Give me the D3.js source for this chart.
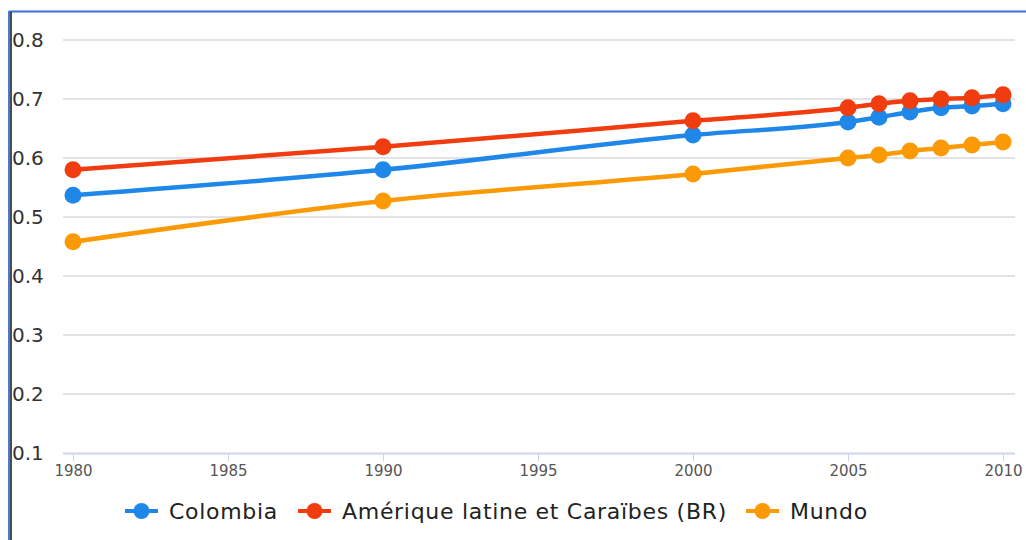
<!DOCTYPE html>
<html>
<head>
<meta charset="utf-8">
<script src="https://cdn.jsdelivr.net/npm/d3@7"></script>
<style>
  body { margin: 0; background: #fff; }
  svg { display: block; font-family: "DejaVu Sans", sans-serif; }
</style>
</head>
<body>
<div class="chart"></div>
<script>
const years = [1980, 1990, 2000, 2005, 2006, 2007, 2008, 2009, 2010];
const colombia = [0.537, 0.580, 0.639, 0.661, 0.669, 0.678, 0.685, 0.688, 0.692];
const latam = [0.580, 0.619, 0.663, 0.685, 0.692, 0.697, 0.700, 0.702, 0.707];
const mundo = [0.458, 0.527, 0.573, 0.600, 0.605, 0.612, 0.617, 0.622, 0.627];
const seriesNames = ["Colombia", "Amérique latine et Caraïbes (BR)", "Mundo"];
const seriesColors = ["#1f87e8", "#f03c0e", "#fc9a06"];
const yTicks = [0.1, 0.2, 0.3, 0.4, 0.5, 0.6, 0.7, 0.8];
const xTicks = [1980, 1985, 1990, 1995, 2000, 2005, 2010];

const w = 1026;
const h = 540;

const svg = d3.select(".chart")
              .append("svg")
              .attr("width", w)
              .attr("height", h);

// frame
svg.append("line").attr("x1", 9).attr("x2", w).attr("y1", 11.5).attr("y2", 11.5)
   .attr("stroke", "#3b6fd0").attr("stroke-width", 2);
svg.append("line").attr("x1", 9).attr("x2", 9).attr("y1", 11).attr("y2", h)
   .attr("stroke", "#4a78d8").attr("stroke-width", 2);
svg.append("line").attr("x1", 11).attr("x2", 11).attr("y1", 12).attr("y2", h)
   .attr("stroke", "#111").attr("stroke-width", 1.5);

const xScale = d3.scaleLinear().domain([1980, 2010]).range([73, 1003]);
const yScale = d3.scaleLinear().domain([0.1, 0.8]).range([453, 40]);

// gridlines + y labels
svg.selectAll(".grid")
   .data(yTicks.slice(1))
   .enter()
   .append("line")
   .attr("x1", 63).attr("x2", 1015)
   .attr("y1", d => yScale(d)).attr("y2", d => yScale(d))
   .attr("stroke", "#c4c4ce").attr("stroke-width", 1);

svg.selectAll(".ylab")
   .data(yTicks)
   .enter()
   .append("text")
   .attr("x", 12)
   .attr("y", d => yScale(d) + 7)
   .attr("font-size", 20)
   .attr("fill", "#333")
   .text(d => d.toFixed(1));

// x axis
const xAxis = d3.axisBottom(xScale).tickValues(xTicks).tickFormat(d => d).tickSize(8).tickSizeOuter(0);
const gx = svg.append("g")
   .attr("transform", "translate(0,453)")
   .call(xAxis);
gx.select(".domain").remove();
gx.append("line").attr("x1", 63).attr("x2", 1015).attr("y1", 0.5).attr("y2", 0.5)
  .attr("stroke", "#ccd6eb").attr("stroke-width", 2);
gx.selectAll(".tick line").attr("stroke", "#ccd6eb");
gx.selectAll(".tick text")
  .attr("font-family", "DejaVu Sans")
  .attr("font-size", 15).attr("fill", "#555").attr("y", 12).attr("dy", "0.71em");

// series
const allSeries = [colombia, latam, mundo];
const line = d3.line()
               .x((d, i) => xScale(years[i]))
               .y(d => yScale(d))
               .curve(d3.curveMonotoneX);

const drawOrder = [2, 0, 1];
drawOrder.forEach(s => {
  const g = svg.append("g");
  g.append("path")
   .attr("d", line(allSeries[s]))
   .attr("fill", "none")
   .attr("stroke", seriesColors[s])
   .attr("stroke-width", 4.5);
  g.selectAll("circle")
   .data(allSeries[s])
   .enter()
   .append("circle")
   .attr("cx", (d, i) => xScale(years[i]))
   .attr("cy", d => yScale(d))
   .attr("r", 8.5)
   .attr("fill", seriesColors[s]);
});

// legend
const legendX = [125, 298, 746];
const legend = svg.selectAll(".leg")
   .data(seriesNames)
   .enter()
   .append("g")
   .attr("transform", (d, i) => "translate(" + legendX[i] + ",511)");
legend.append("line")
   .attr("x1", 0).attr("x2", 33).attr("y1", 0).attr("y2", 0)
   .attr("stroke", (d, i) => seriesColors[i]).attr("stroke-width", 4);
legend.append("circle")
   .attr("cx", 16.5).attr("cy", 0).attr("r", 8)
   .attr("fill", (d, i) => seriesColors[i]);
legend.append("text")
   .attr("x", 44).attr("y", 8)
   .attr("font-size", 22)
   .attr("letter-spacing", 0.7)
   .attr("fill", "#222")
   .text(d => d);
</script>
</body>
</html>
